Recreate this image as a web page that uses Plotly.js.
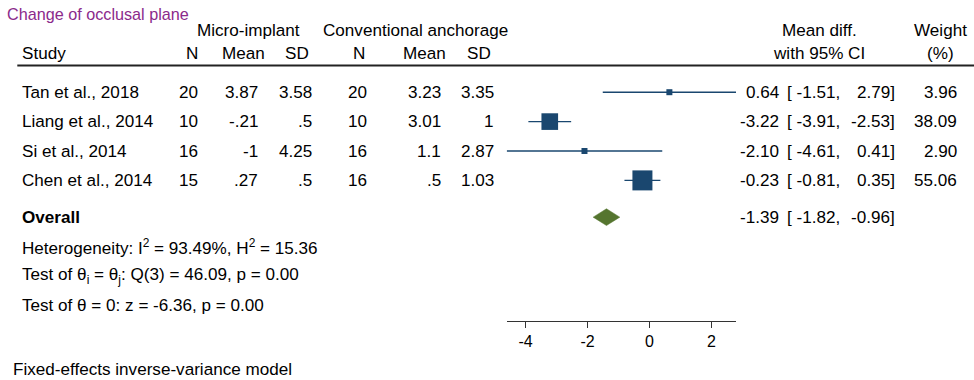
<!DOCTYPE html>
<html>
<head>
<meta charset="utf-8">
<script src="https://cdn.plot.ly/plotly-3.0.1.min.js"></script>
<style>html,body{margin:0;padding:0;background:#fff;}#chart{width:974px;height:380px;}</style>
</head>
<body>
<div id="chart"></div>
<script>
// ---- data ----
const studies = ["Tan et al., 2018", "Liang et al., 2014", "Si et al., 2014", "Chen et al., 2014"];
const n1 = [20, 10, 16, 15];
const mean1 = [3.87, -0.21, -1, 0.27];
const sd1 = [3.58, 0.5, 4.25, 0.5];
const n2 = [20, 10, 16, 16];
const mean2 = [3.23, 3.01, 1.1, 0.5];
const sd2 = [3.35, 1, 2.87, 1.03];
const md = [0.64, -3.22, -2.10, -0.23];
const ciLow = [-1.51, -3.91, -4.61, -0.81];
const ciHigh = [2.79, -2.53, 0.41, 0.35];
const weight = [3.96, 38.09, 2.90, 55.06];
const overall = {est: -1.39, lo: -1.82, hi: -0.96};
const xTicks = [-4, -2, 0, 2];
const statLines = [
  "Heterogeneity: I<sup>2</sup> = 93.49%, H<sup>2</sup> = 15.36",
  "Test of θ<sub>i</sub> = θ<sub>j</sub>: Q(3) = 46.09, p = 0.00",
  "Test of θ = 0: z = -6.36, p = 0.00"
];
const titleText = "Change of occlusal plane";
const footText = "Fixed-effects inverse-variance model";

// ---- layout helpers ----
const W = 974, H = 380;
const FONT = "Liberation Sans, Arial, sans-serif";
const FS = 17.1;
const px = v => v / W;          // x pixel -> paper
const py = v => 1 - v / H;      // y pixel -> paper
const rows = studies.map((s, i) => i + 1);
const overallRow = 5.25;
const statRows = [6.25, 7.25, 8.25];

function fmtG(v) {
  let s = String(v);
  s = s.replace(/^0\./, ".").replace(/^-0\./, "-.");
  return s;
}
const f2 = v => v.toFixed(2);

const navy = "#1a476f";
const green = "#55752f";

const annotations = [];
function ann(text, x, y, anchor, opts) {
  annotations.push(Object.assign({
    text: text, x: px(x), xref: "paper", y: y, yref: "y",
    xanchor: anchor, yanchor: "middle", showarrow: false,
    font: {family: FONT, size: FS, color: "#000"}
  }, opts || {}));
}
function annP(text, x, ypx, anchor, opts) {
  ann(text, x, py(ypx), anchor, Object.assign({yref: "paper"}, opts || {}));
}

// title & headers
annP(titleText, 5, 14, "left", {font: {family: FONT, size: 16.2, color: "#8b2a8b"}});
annP("Micro-implant", 248, 30, "center");
annP("Conventional anchorage", 415.5, 30, "center");
annP("Mean diff.", 819, 30.5, "center");
annP("Weight", 940, 30.5, "center");
annP("Study", 20, 53.5, "left");
annP("N", 199.5, 53.5, "right");
annP("Mean", 266.7, 53.5, "right");
annP("SD", 310.7, 53.5, "right");
annP("N", 366.7, 53.5, "right");
annP("Mean", 448.3, 53.5, "right");
annP("SD", 493, 53.5, "right");
annP("with 95% CI", 819, 53.5, "center");
annP("(%)", 940, 53.5, "center");

// study rows
studies.forEach((s, i) => {
  const y = rows[i];
  ann(s, 20, y, "left");
  ann(String(n1[i]), 200, y, "right");
  ann(fmtG(mean1[i]), 259.5, y, "right");
  ann(fmtG(sd1[i]), 314, y, "right");
  ann(String(n2[i]), 368.5, y, "right");
  ann(fmtG(mean2[i]), 443, y, "right");
  ann(fmtG(sd2[i]), 496, y, "right");
  ann(f2(md[i]), 781, y, "right");
  ann("[ " + f2(ciLow[i]) + ",", 842, y, "right");
  ann(f2(ciHigh[i]) + "]", 897, y, "right");
  ann(f2(weight[i]), 958.5, y, "right");
});
// overall row
ann("<b>Overall</b>", 20, overallRow, "left");
ann(f2(overall.est), 781, overallRow, "right");
ann("[ " + f2(overall.lo) + ",", 842, overallRow, "right");
ann(f2(overall.hi) + "]", 897, overallRow, "right");
statLines.forEach((t, i) => ann(t, 20, statRows[i], "left"));
annP(footText, 11, 369.5, "left");

// ---- traces ----
const ciX = [], ciY = [];
studies.forEach((s, i) => { ciX.push(ciLow[i], ciHigh[i], null); ciY.push(rows[i], rows[i], null); });
const k = 20 / Math.sqrt(Math.max(...weight));
const sizes = weight.map(w => Math.max(k * Math.sqrt(w), 6));
const dh = 0.285;

const traces = [
  {type: "scatter", mode: "lines", x: ciX, y: ciY,
   line: {color: navy, width: 1.4}, hoverinfo: "skip", showlegend: false},
  {type: "scatter", mode: "markers", x: md, y: rows,
   marker: {symbol: "square", size: sizes, color: navy, opacity: 1, line: {width: 0}},
   hoverinfo: "skip", showlegend: false},
  {type: "scatter", mode: "lines", fill: "toself", fillcolor: green,
   x: [overall.lo, overall.est, overall.hi, overall.est, overall.lo],
   y: [overallRow, overallRow - dh, overallRow, overallRow + dh, overallRow],
   line: {color: green, width: 0.5}, hoverinfo: "skip", showlegend: false}
];

const xMin = Math.min(...ciLow, overall.lo);
const xMax = Math.max(...ciHigh, overall.hi);
const axisBottomPx = 320.7;
const rowPx1 = 92.2, rowStep = 29.4;

const layout = {
  width: W, height: H,
  margin: {l: 0, r: 0, t: 0, b: 0, pad: 0},
  paper_bgcolor: "#fff", plot_bgcolor: "rgba(0,0,0,0)",
  showlegend: false,
  font: {family: FONT, size: FS, color: "#000"},
  xaxis: {
    domain: [506.7 / W, 736 / W],
    range: [xMin, xMax], autorange: false,
    showline: true, linecolor: "#333", linewidth: 1,
    ticks: "outside", ticklen: 6, tickcolor: "#333", tickwidth: 1,
    tickvals: xTicks, ticktext: xTicks.map(String),
    tickfont: {family: FONT, size: 16, color: "#000"},
    showgrid: false, zeroline: false, fixedrange: true
  },
  yaxis: {
    domain: [(H - axisBottomPx) / H, 1],
    range: [1 + (axisBottomPx - rowPx1) / rowStep, 1 - rowPx1 / rowStep],
    autorange: false, visible: false, showgrid: false, zeroline: false, fixedrange: true
  },
  shapes: [
    {type: "line", xref: "paper", yref: "paper", x0: px(17.3), x1: 1, y0: py(65.5), y1: py(65.5),
     line: {color: "#222", width: 2}}
  ],
  annotations: annotations
};

Plotly.newPlot("chart", traces, layout, {staticPlot: true, displayModeBar: false});
</script>
</body>
</html>
